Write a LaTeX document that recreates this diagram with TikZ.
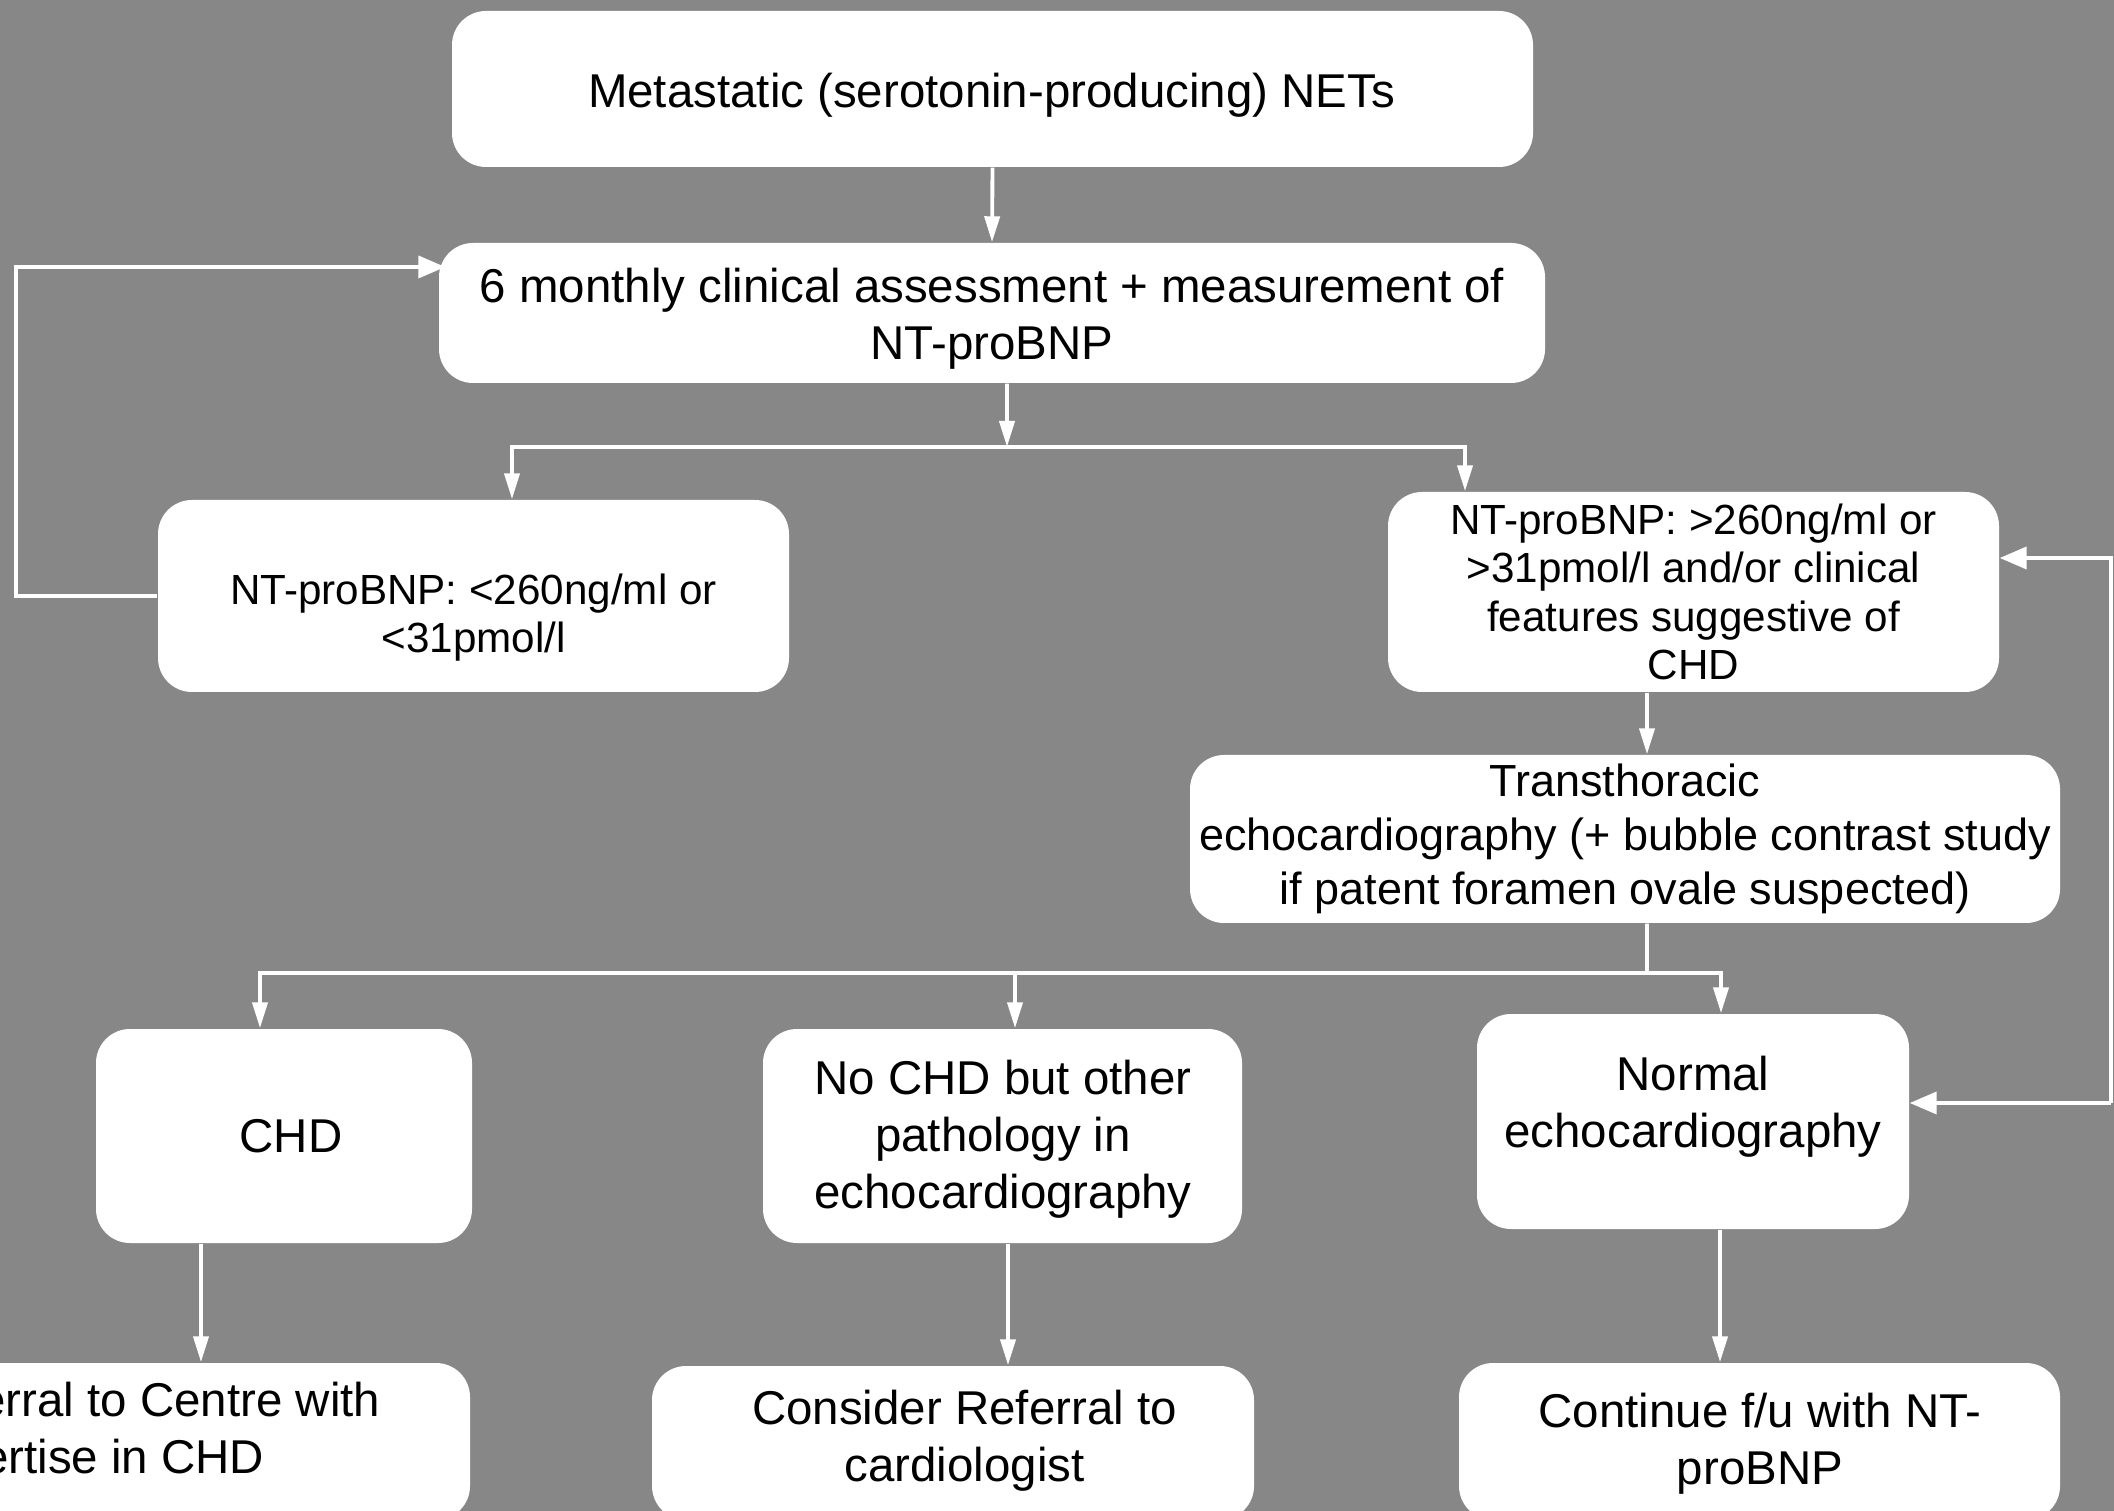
\documentclass[tikz,border=0pt]{standalone}
\usepackage{fontspec}
\setmainfont{Liberation Sans}
\usetikzlibrary{arrows.meta,positioning}
\definecolor{bggray}{HTML}{878787}

\tikzset{
  box/.style={fill=white, rounded corners=0.34cm, inner sep=0pt, align=center, font=\fontsize{13.5}{16.2}\selectfont},
  txt/.style={inner sep=0pt, align=center, font=\fontsize{13.5}{16.2}\selectfont},
  small/.style={font=\fontsize{12}{13.7}\selectfont},
  wline/.style={draw=white, line width=1.1pt},
  arr/.style={wline, -{Triangle[length=0.26cm, width=0.15cm]}},
  larr/.style={wline, -{Triangle[length=0.27cm, width=0.22cm]}},
}

\begin{document}
\begin{tikzpicture}

\useasboundingbox (0,0) rectangle (21.14,-15.11);
\fill[bggray] (0,0) rectangle (21.14,-15.11);
\clip (0,0) rectangle (21.14,-15.11);

\node[box, minimum width=10.81cm, minimum height=1.56cm] (nets) at (9.925,-0.89) {};
\node[txt] (nets-t) at (9.915,-0.95) {Metastatic (serotonin-producing) NETs};
\node[box, minimum width=11.06cm, minimum height=1.40cm] (assess) at (9.92,-3.13) {};
\node[txt] (assess-t) at (9.92,-3.19) {6 monthly clinical assessment + measurement of\\NT-proBNP};

\node[box, minimum width=6.31cm, minimum height=1.92cm] (low) at (4.735,-5.96) {};
\node[txt, small] (low-t) at (4.735,-6.18) {NT-proBNP: <260ng/ml or\\<31pmol/l};
\node[box, small, minimum width=6.11cm, minimum height=2.0cm] (high) at (16.935,-5.92) {NT-proBNP: >260ng/ml or\\>31pmol/l and/or clinical\\features suggestive of\\CHD};

\node[box, font=\fontsize{12.8}{15.4}\selectfont, minimum width=8.7cm, minimum height=1.68cm] (tte) at (16.25,-8.39) {Transthoracic\\echocardiography (+ bubble contrast study\\if patent foramen ovale suspected)};

\node[box, minimum width=3.76cm, minimum height=2.14cm] (chd) at (2.84,-11.36) {};
\node[txt] (chd-t) at (2.91,-11.36) {CHD};
\node[box, minimum width=4.79cm, minimum height=2.14cm] (other) at (10.025,-11.36) {};
\node[txt] (other-t) at (10.03,-11.39) {No CHD but other\\pathology in\\echocardiography};
\node[box, minimum width=4.32cm, minimum height=2.15cm] (normal) at (16.93,-11.215) {};
\node[txt] (normal-t) at (16.93,-11.07) {Normal\\echocardiography};

\node[box, minimum width=6.30cm, minimum height=1.57cm] (refer) at (1.55,-14.415) {};
\node[txt, anchor=west, align=left] (refer-t) at (-0.95,-14.33) {Referral to Centre with\\expertise in CHD};
\node[box, minimum width=6.02cm, minimum height=1.54cm] (consider) at (9.53,-14.43) {};
\node[txt] (consider-t) at (9.645,-14.41) {Consider Referral to\\cardiologist};
\node[box, minimum width=6.01cm, minimum height=1.57cm] (cont) at (17.595,-14.415) {};
\node[txt] (cont-t) at (17.60,-14.44) {Continue f/u with NT-\\proBNP};

%Arrows
\draw[arr] (nets.south) -- (assess.north);

\coordinate (split1) at (10.07,-4.47);
\draw[arr] ([xshift=0.15cm]assess.south) -- (split1);
\draw[arr] (split1) -| ([xshift=0.385cm]low.north);
\draw[arr] (split1) -| ([xshift=-2.285cm]high.north);

\coordinate (loopL) at (0.16,-2.67);
\draw[larr] (low.west) -| (loopL) -- ([xshift=0.07cm]assess.west |- loopL);

\draw[arr] ([xshift=-0.465cm]high.south) -- ([xshift=-0.465cm]high.south |- tte.north);

\coordinate (split2) at (16.47,-9.73);
\draw[wline] ([xshift=0.22cm]tte.south) -- (split2);
\draw[arr] (split2) -| ([xshift=-0.24cm]chd.north);
\draw[arr] (split2) -| ([xshift=0.28cm]normal.north);
\draw[arr] ([xshift=0.125cm]other.north |- split2) -- ([xshift=0.125cm]other.north);

\coordinate (loopR) at (21.11,-11.03);
\draw[larr] (loopR) -- (normal.east |- loopR);
\draw[larr] (loopR) |- ([yshift=0.34cm]high.east);

\draw[arr] ([xshift=-0.83cm]chd.south) -- ([xshift=-0.83cm]chd.south |- refer.north);
\draw[arr] ([xshift=0.055cm]other.south) -- ([xshift=0.055cm]other.south |- consider.north);
\draw[arr] ([xshift=0.27cm]normal.south) -- ([xshift=0.27cm]normal.south |- cont.north);

\end{tikzpicture}
\end{document}
